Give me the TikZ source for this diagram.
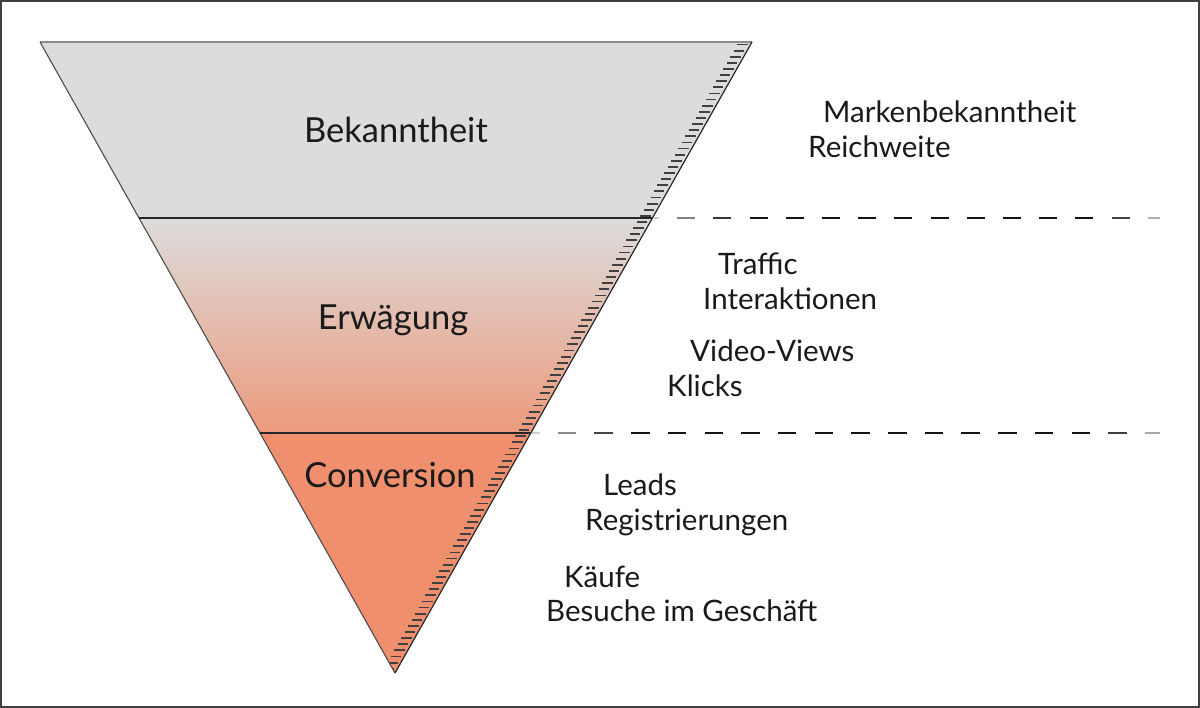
\documentclass[tikz,border=0pt]{standalone}
\usepackage{fontspec}
\setmainfont{Lato}
\definecolor{fgray}{HTML}{DCDCDC}
\definecolor{fmid}{HTML}{DFCAC3}
\definecolor{flow}{HTML}{EC9A7C}
\definecolor{fsalmon}{HTML}{EF8F6E}
\definecolor{txt}{HTML}{1A1A1A}
\begin{document}
\begin{tikzpicture}[x=1pt,y=-1pt,
  lbl/.style={font=\fontsize{29.5}{29.5}\selectfont, text=txt, inner sep=0pt},
  side/.style={lbl, anchor=base west},
  stage/.style={lbl, font=\fontsize{34.5}{34.5}\selectfont, anchor=base},
  hatch/.style={black!75, line width=1.8pt},
  divider/.style={black!85, line width=1.3pt},
  frame/.style={black!75, line width=1.6pt}]
\useasboundingbox (0,0) rectangle (1200,708);
\draw[frame] (1,1) rectangle (1199,707);

\coordinate (tl) at (40,42);
\coordinate (tr) at (752,42);
\coordinate (ap) at (395,673);
\coordinate (d1l) at (139,218);
\coordinate (d1r) at (652.4,218);
\coordinate (d2l) at (260,433);
\coordinate (d2r) at (530.8,433);

% dashed extension lines
\foreach \i in {0,...,14} {
  \pgfmathsetmacro\xa{641+36.2*\i}
  \pgfmathsetmacro\xs{max(\xa,654)}
  \pgfmathsetmacro\xb{min(\xa+18,1160)}
  \pgfmathsetmacro\lv{max(0,min(1,min((\xa-630)/100,(1165-\xa)/70)))}
  \pgfmathtruncatemacro\pc{12+80*\lv}
  \coordinate (ua\i) at (\xs,218);
  \coordinate (ub\i) at (\xb,218);
  \draw[black!\pc, line width=1.6pt] (ua\i) -- (ub\i);
}
\foreach \i in {0,...,17} {
  \pgfmathsetmacro\xa{521+36.7*\i}
  \pgfmathsetmacro\xs{max(\xa,532)}
  \pgfmathsetmacro\xb{min(\xa+18.5,1160)}
  \pgfmathsetmacro\lv{max(0,min(1,min((\xa-510)/110,(1165-\xa)/70)))}
  \pgfmathtruncatemacro\pc{12+80*\lv}
  \coordinate (va\i) at (\xs,433);
  \coordinate (vb\i) at (\xb,433);
  \draw[black!\pc, line width=1.6pt] (va\i) -- (vb\i);
}

% funnel fill
\begin{scope}
  \clip (tl) -- (tr) -- (ap) -- cycle;
  \fill[fgray] (0,30) rectangle (800,218);
  \shade[top color=fgray, middle color=fmid, bottom color=flow] (0,218) rectangle (800,433);
  \fill[fsalmon] (0,433) rectangle (800,690);
  \foreach \i in {0,...,102} {
    \pgfmathsetmacro\yy{44.5+6.12*\i}
    \pgfmathsetmacro\xe{752-(\yy-42)/631*357}
    \coordinate (ha\i) at (\xe-13.5,\yy);
    \coordinate (hb\i) at (\xe-3,\yy);
    \draw[hatch] (ha\i) -- (hb\i);
  }
\end{scope}

% funnel outline
\draw[black!45, line width=1.6pt] (tl) -- (tr);
\draw[black!70, line width=1.1pt] (tl) -- (ap);
\draw[black!85, line width=1.2pt] (tr) -- (ap);
\draw[divider] (d1l) -- (d1r);
\draw[divider] (d2l) -- (d2r);

% stage labels
\node[stage] (bek) at (396,143) {Bekanntheit};
\node[stage] (erw) at (393,330) {Erwägung};
\node[stage] (con) at (390,488) {Conversion};

% metric labels
\node[side] (m1) at (823,123) {Markenbekanntheit};
\node[side] (m2) at (808,158) {Reichweite};
\node[side] (m3) at (718,275) {Traffic};
\node[side] (m4) at (703,310) {Interaktionen};
\node[side] (m5) at (690,362) {Video-Views};
\node[side] (m6) at (667,397) {Klicks};
\node[side] (m7) at (603,495) {Leads};
\node[side] (m8) at (585,530) {Registrierungen};
\node[side] (m9) at (564,587) {Käufe};
\node[side] (m10) at (546,621) {Besuche im Geschäft};
\end{tikzpicture}
\end{document}
